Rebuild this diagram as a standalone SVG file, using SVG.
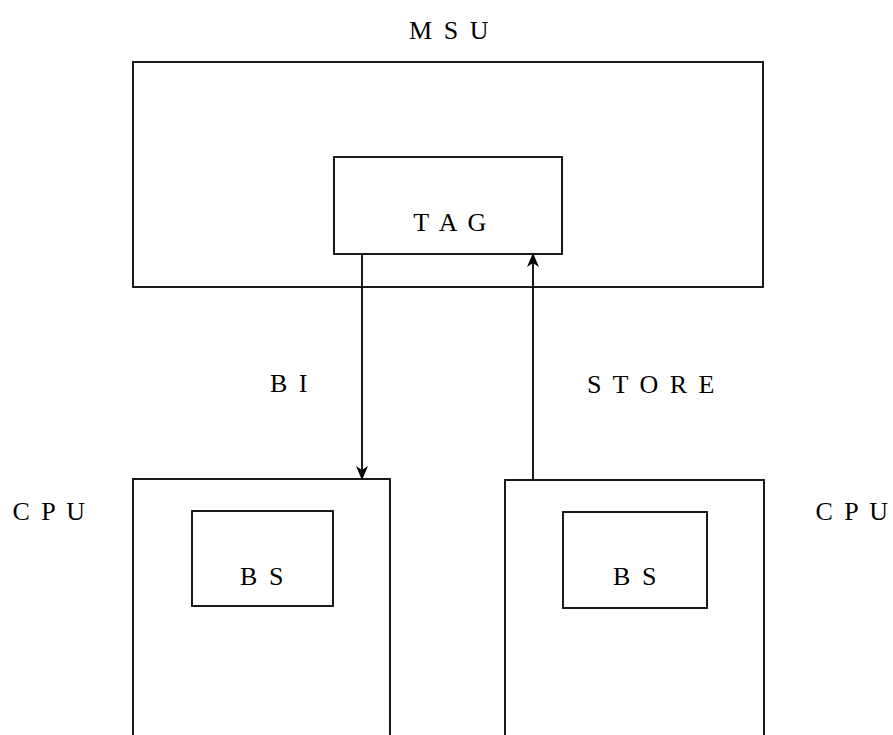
<svg xmlns="http://www.w3.org/2000/svg" width="893" height="735" viewBox="0 0 893 735">
<style>
.box{fill:none;stroke:#000;stroke-width:1.8}
.lbl{font-family:"Liberation Serif","DejaVu Serif",serif;font-size:26px;fill:#000;letter-spacing:2.5px}
.conn{stroke:#000;stroke-width:1.8;fill:none}
</style>
<defs>
<marker id="ah" viewBox="0 0 14 12" refX="13" refY="6" markerWidth="14" markerHeight="12" markerUnits="userSpaceOnUse" orient="auto">
<path d="M0,0 L14,6 L0,12 L4,6 Z" fill="#000"/>
</marker>
</defs>
<g id="msu">
<rect class="box" x="133" y="62" width="630" height="225"/>
<text class="lbl" x="450" y="39" text-anchor="middle">M S U</text>
</g>
<g id="tag">
<rect class="box" x="334" y="157" width="228" height="97"/>
<text class="lbl" x="451" y="231" text-anchor="middle">T A G</text>
</g>
<g id="cpu-left">
<rect class="box" x="133" y="479" width="257" height="270"/>
<text class="lbl" x="50" y="520" text-anchor="middle">C P U</text>
</g>
<g id="bs-left">
<rect class="box" x="192" y="511" width="141" height="95"/>
<text class="lbl" x="263" y="585" text-anchor="middle">B S</text>
</g>
<g id="cpu-right">
<rect class="box" x="505" y="480" width="259" height="270"/>
<text class="lbl" x="853" y="520" text-anchor="middle">C P U</text>
</g>
<g id="bs-right">
<rect class="box" x="563" y="512" width="144" height="96"/>
<text class="lbl" x="636" y="585" text-anchor="middle">B S</text>
</g>
<g id="connectors">
<line class="conn" x1="362" y1="254" x2="362" y2="479" marker-end="url(#ah)"/>
<line class="conn" x1="533" y1="480" x2="533" y2="254" marker-end="url(#ah)"/>
<text class="lbl" x="290" y="392" text-anchor="middle">B I</text>
<text class="lbl" x="652" y="393" text-anchor="middle">S T O R E</text>
</g>
</svg>
